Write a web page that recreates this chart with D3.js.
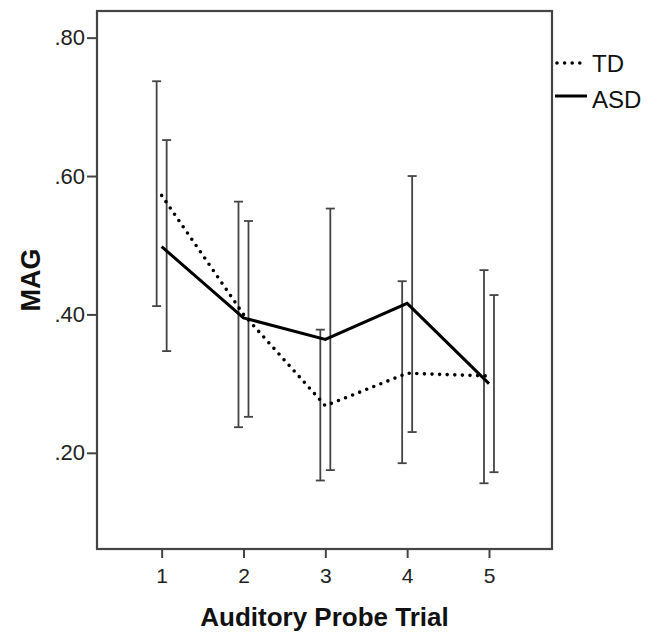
<!DOCTYPE html>
<html lang="en">

<head>
  <meta charset="UTF-8">
  <title>MAG by Auditory Probe Trial</title>
  <script src="https://d3js.org/d3.v7.min.js"></script>
  <style>
    body {
      margin: 0;
      background-color: white;
      font-family: Arial, 'Liberation Sans', sans-serif;
    }
  </style>
</head>

<body>
  <script>
    // Data
    const trials = [1, 2, 3, 4, 5];
    const yTicks = [0.2, 0.4, 0.6, 0.8];

    const tdMean = [0.572, 0.400, 0.268, 0.315, 0.311];
    const tdUpper = [0.737, 0.563, 0.378, 0.448, 0.464];
    const tdLower = [0.412, 0.237, 0.160, 0.185, 0.156];

    const asdMean = [0.498, 0.395, 0.364, 0.416, 0.300];
    const asdUpper = [0.652, 0.535, 0.553, 0.600, 0.428];
    const asdLower = [0.347, 0.252, 0.175, 0.230, 0.172];

    const width = 657, height = 633;
    const svg = d3.select("body").append("svg")
      .attr("width", width)
      .attr("height", height);

    const x = d3.scaleLinear().domain([0.21, 5.77]).range([97, 552]);
    const y = d3.scaleLinear().domain([0.061, 0.8385]).range([549, 11]);

    const axisColor = "#444";

    // Y axis ticks + labels
    svg.append("g")
      .attr("transform", `translate(${x.range()[0]},0)`)
      .call(d3.axisLeft(y).tickValues(yTicks).tickSize(10).tickPadding(2)
        .tickFormat(d => d3.format(".2f")(d).replace(/^0/, "")))
      .call(g => g.select(".domain").remove())
      .call(g => g.selectAll("line").attr("stroke", axisColor).attr("stroke-width", 2))
      .call(g => g.selectAll("text").attr("font-size", 22).attr("fill", "#222")
        .attr("font-family", "Arial, 'Liberation Sans', sans-serif"));

    // X axis ticks + labels
    svg.append("g")
      .attr("transform", `translate(0,${y.range()[0]})`)
      .call(d3.axisBottom(x).tickValues(trials).tickSize(9).tickPadding(10)
        .tickFormat(d3.format("d")))
      .call(g => g.select(".domain").remove())
      .call(g => g.selectAll("line").attr("stroke", axisColor).attr("stroke-width", 2))
      .call(g => g.selectAll("text").attr("font-size", 21).attr("fill", "#222")
        .attr("font-family", "Arial, 'Liberation Sans', sans-serif"));

    // Frame
    svg.append("rect")
      .attr("x", x.range()[0])
      .attr("y", y.range()[1])
      .attr("width", x.range()[1] - x.range()[0])
      .attr("height", y.range()[0] - y.range()[1])
      .attr("fill", "none")
      .attr("stroke", axisColor)
      .attr("stroke-width", 2.2);

    // Axis titles
    svg.append("text")
      .attr("x", (x.range()[0] + x.range()[1]) / 2)
      .attr("y", 626)
      .attr("text-anchor", "middle")
      .attr("font-size", 26)
      .attr("font-weight", "bold")
      .attr("fill", "#111")
      .text("Auditory Probe Trial");

    svg.append("text")
      .attr("transform", `translate(40,${(y.range()[0] + y.range()[1]) / 2}) rotate(-90)`)
      .attr("text-anchor", "middle")
      .attr("font-size", 27)
      .attr("font-weight", "bold")
      .attr("fill", "#111")
      .text("MAG");

    // Error bars
    const capW = 4.5;
    const groups = [
      { name: "TD", mean: tdMean, lo: tdLower, hi: tdUpper, dx: -5, dash: "0 7.6" },
      { name: "ASD", mean: asdMean, lo: asdLower, hi: asdUpper, dx: 5, dash: null }
    ];

    groups.forEach(gr => {
      const bars = svg.append("g")
        .attr("stroke", axisColor)
        .attr("stroke-width", 1.8)
        .selectAll("g")
        .data(trials.map((t, i) => ({ t, lo: gr.lo[i], hi: gr.hi[i] })))
        .enter().append("g");

      bars.append("line")
        .attr("x1", d => x(d.t) + gr.dx).attr("x2", d => x(d.t) + gr.dx)
        .attr("y1", d => y(d.lo)).attr("y2", d => y(d.hi));
      bars.append("line")
        .attr("x1", d => x(d.t) + gr.dx - capW).attr("x2", d => x(d.t) + gr.dx + capW)
        .attr("y1", d => y(d.hi)).attr("y2", d => y(d.hi));
      bars.append("line")
        .attr("x1", d => x(d.t) + gr.dx - capW).attr("x2", d => x(d.t) + gr.dx + capW)
        .attr("y1", d => y(d.lo)).attr("y2", d => y(d.lo));
    });

    // Mean lines
    const line = d3.line().x(d => x(d.t)).y(d => y(d.v));
    groups.forEach(gr => {
      svg.append("path")
        .datum(trials.map((t, i) => ({ t, v: gr.mean[i] })))
        .attr("fill", "none")
        .attr("stroke", "#000")
        .attr("stroke-width", gr.dash ? 3.6 : 3)
        .attr("stroke-linecap", gr.dash ? "round" : "butt")
        .attr("stroke-dasharray", gr.dash)
        .attr("d", line);
    });

    // Legend
    const legend = svg.append("g");
    const legendY = [63, 96];
    groups.forEach((gr, i) => {
      legend.append("line")
        .attr("x1", gr.dash ? 557 : 555).attr("x2", gr.dash ? 583 : 587)
        .attr("y1", legendY[i]).attr("y2", legendY[i])
        .attr("stroke", "#000")
        .attr("stroke-width", gr.dash ? 3.6 : 3)
        .attr("stroke-linecap", gr.dash ? "round" : "butt")
        .attr("stroke-dasharray", gr.dash);
      legend.append("text")
        .attr("x", 592)
        .attr("y", legendY[i] + 9 + i * 3)
        .attr("font-size", 24)
        .attr("fill", "#111")
        .text(gr.name);
    });
  </script>
</body>

</html>
